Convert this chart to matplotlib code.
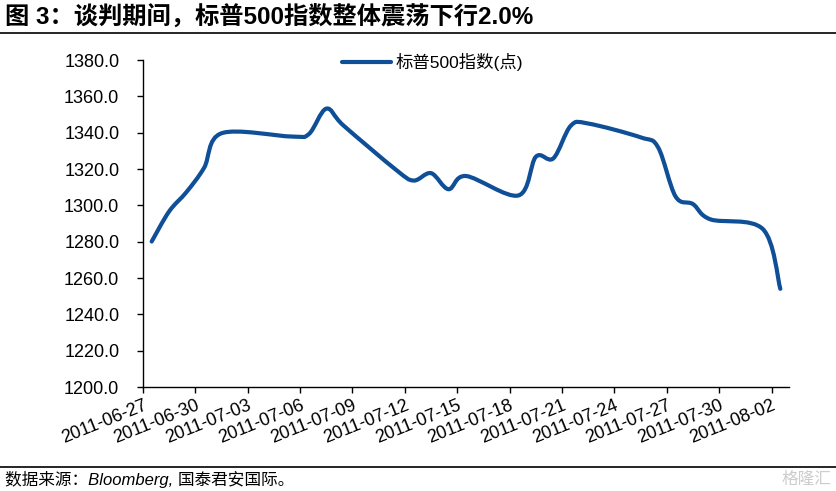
import numpy as np
import pandas as pd
import matplotlib
matplotlib.use("Agg")
import matplotlib.pyplot as plt
import matplotlib.dates as mdates
from matplotlib.path import Path
from matplotlib.patches import PathPatch
from matplotlib.lines import Line2D

plt.rcParams['font.family'] = ['Liberation Sans', 'Noto Sans CJK SC', 'DejaVu Sans']

# S&P 500 closes during the debt-ceiling talks
dates = ["2011-06-27", "2011-06-28", "2011-06-29", "2011-06-30", "2011-07-01",
         "2011-07-05", "2011-07-06", "2011-07-07", "2011-07-08", "2011-07-11",
         "2011-07-12", "2011-07-13", "2011-07-14", "2011-07-15", "2011-07-18",
         "2011-07-19", "2011-07-20", "2011-07-21", "2011-07-22", "2011-07-25",
         "2011-07-26", "2011-07-27", "2011-07-28", "2011-07-29", "2011-08-01",
         "2011-08-02"]
spx = [1280.10, 1296.67, 1307.41, 1320.64, 1339.67,
       1337.88, 1339.22, 1353.22, 1343.80, 1319.49,
       1313.64, 1317.72, 1308.87, 1316.14, 1305.44,
       1326.73, 1325.84, 1343.80, 1345.02, 1337.43,
       1331.94, 1304.89, 1300.67, 1292.28, 1286.94,
       1254.05]
series_name = "标普500指数(点)"
title = "图 3：谈判期间，标普500指数整体震荡下行2.0%"
source = "数据来源：Bloomberg, 国泰君安国际。"

blue = '#0E4F97'

fig = plt.figure(figsize=(8.37, 4.91), dpi=100)
ax = fig.add_axes([0.1708, 0.2118, 0.7719, 0.666])

# points sit in the middle of each day slot (excel date axis)
x = mdates.date2num(pd.to_datetime(dates)) + 0.5
y = np.array(spx)

# excel-style smoothed line: cubic bezier through the points
pts = np.column_stack([x, y])
verts = [pts[0]]
codes = [Path.MOVETO]
n = len(pts)
for i in range(n - 1):
    p0 = pts[i - 1] if i > 0 else pts[i]
    p1 = pts[i]
    p2 = pts[i + 1]
    p3 = pts[i + 2] if i + 2 < n else pts[i + 1]
    c1 = p1 + (p2 - p0) / 6.0
    c2 = p2 - (p3 - p1) / 6.0
    verts += [c1, c2, p2]
    codes += [Path.CURVE4] * 3
ax.add_patch(PathPatch(Path(verts, codes), fill=False, edgecolor=blue,
                       lw=3.0, capstyle='round', joinstyle='round'))

x0 = mdates.date2num(pd.Timestamp("2011-06-27"))
ax.set_xlim(x0, x0 + 37)
ax.set_ylim(1200, 1380)
ticks = pd.date_range("2011-06-27", "2011-08-02", freq="3D")
ax.set_xticks(mdates.date2num(ticks))
ax.set_xticklabels([t.strftime("%Y-%m-%d") for t in ticks], rotation=22,
                   ha='right', rotation_mode='anchor')
ax.set_yticks(np.arange(1200, 1381, 20))
ax.set_yticklabels(["%.1f" % v for v in np.arange(1200, 1381, 20)])
ax.tick_params(axis='both', labelsize=13, length=4, width=1, direction='out')
ax.tick_params(axis='y', pad=13)
ax.tick_params(axis='x', pad=3)
for s in ['top', 'right']:
    ax.spines[s].set_visible(False)
for s in ['left', 'bottom']:
    ax.spines[s].set_linewidth(1)

handle = Line2D([], [], color=blue, lw=3.0, solid_capstyle='round')
fig.legend([handle], [series_name], loc='center left',
           bbox_to_anchor=(342 / 837, 1 - 62 / 491), frameon=False,
           borderpad=0, borderaxespad=0, handlelength=2.8, handletextpad=0.3,
           prop={'size': 12.5})

fig.text(0.006, 1 - 18 / 491, title, fontsize=17.5, fontweight='bold',
         va='center', ha='left')
fig.add_artist(Line2D([0, 1], [1 - 33 / 491, 1 - 33 / 491], color='black',
                      lw=1.2, transform=fig.transFigure))
fig.add_artist(Line2D([0, 1], [1 - 467 / 491, 1 - 467 / 491], color='black',
                      lw=1.2, transform=fig.transFigure))
fig.text(0.006, 1 - 479 / 491, source, fontsize=12, style='italic',
         va='center', ha='left')
fig.text(0.993, 1 - 479 / 491, "格隆汇", fontsize=12, color='#cccccc',
         va='center', ha='right')

fig.savefig("out.png", dpi=100)
